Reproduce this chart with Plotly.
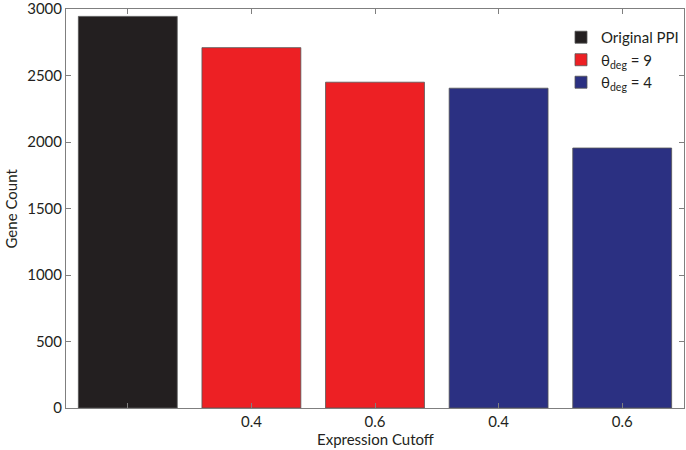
import plotly.graph_objects as go

# bar positions and values
positions = [1, 2, 3, 4, 5]
tick_labels = ["", "0.4", "0.6", "0.4", "0.6"]
y_ticks = [0, 500, 1000, 1500, 2000, 2500, 3000]

series_names = ["Original PPI", "θ<sub>deg</sub> = 9", "θ<sub>deg</sub> = 4"]
series_x = [[1], [2, 3], [4, 5]]
series_y = [[2945], [2710, 2450], [2405, 1955]]
series_colors = ["#231f20", "#ed2024", "#2b3082"]

FONT = "Lato, Open Sans, sans-serif"
TEXT = "#231f20"

fig = go.Figure()
for name, xs, ys, color in zip(series_names, series_x, series_y, series_colors):
    fig.add_trace(go.Bar(
        x=xs, y=ys, name=name, width=0.8,
        marker=dict(color=color, line=dict(color="#555555", width=0.8)),
    ))

fig.update_layout(
    width=686, height=450,
    margin=dict(l=66, r=2, t=9, b=42),
    plot_bgcolor="white", paper_bgcolor="white",
    font=dict(family=FONT, size=15, color=TEXT),
    showlegend=True,
    legend=dict(
        x=1.0, y=0.97, xanchor="right", yanchor="top",
        bgcolor="rgba(255,255,255,0)", borderwidth=0,
        font=dict(size=15), tracegroupgap=0, itemwidth=30,
    ),
)
fig.update_xaxes(
    range=[0.5, 5.5], tickvals=positions, ticktext=tick_labels, automargin=False,
    ticklabeloverflow="allow",
    showline=True, linecolor="#7f7f7f", linewidth=1, mirror="ticks",
    ticks="inside", ticklen=5, tickcolor="#7f7f7f", showgrid=False, zeroline=False,
)
fig.update_yaxes(
    range=[0, 3000.5], tickvals=y_ticks, automargin=False,
    ticklabeloverflow="allow",
    showline=True, linecolor="#7f7f7f", linewidth=1, mirror="ticks",
    ticks="inside", ticklen=5, tickcolor="#7f7f7f", showgrid=False, zeroline=False,
)

# axis titles placed as annotations to sit tight to the plot
fig.add_annotation(text="Expression Cutoff", xref="paper", yref="paper",
                   x=0.5, y=0, yanchor="middle", yshift=-31, showarrow=False,
                   font=dict(size=15, color=TEXT))
fig.add_annotation(text="Gene Count", xref="paper", yref="paper",
                   x=0, y=0.5, xanchor="center", xshift=-56, textangle=-90,
                   showarrow=False, font=dict(size=15, color=TEXT))

# drop the default page margin so the figure sits at the window origin
fig.write_html("out.html", config={"displayModeBar": False},
               post_script="document.body.style.margin='0';")
